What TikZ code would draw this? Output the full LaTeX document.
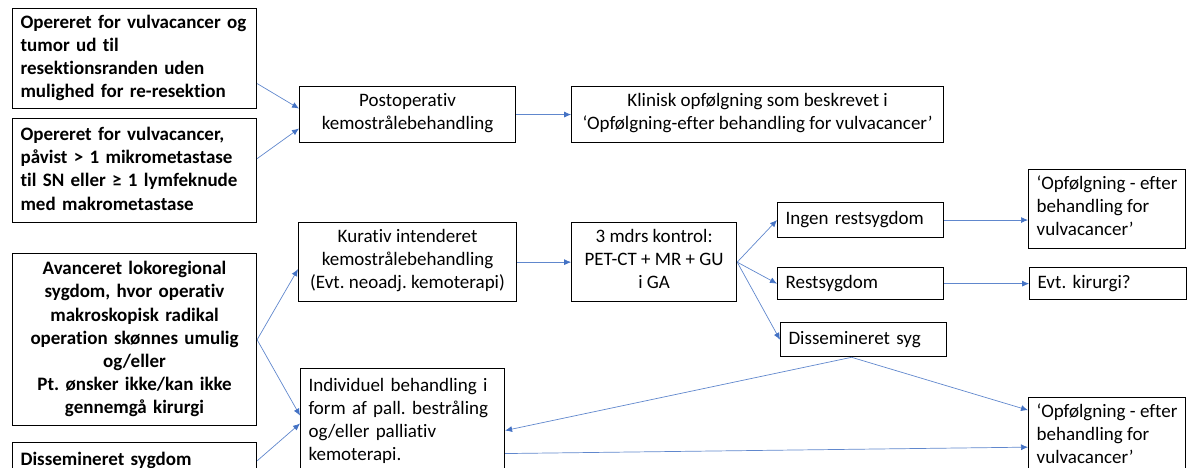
\documentclass[tikz,border=0pt]{standalone}
\usepackage{fontspec}
\setmainfont{Carlito}[Ligatures=NoCommon]
\usetikzlibrary{positioning,arrows.meta}

\definecolor{linkblue}{HTML}{4472C4}
\frenchspacing

\tikzset{
  box/.style={draw=black, line width=1.1pt, inner xsep=8pt, inner ysep=0pt,
    font=\fontsize{19}{23.2}\selectfont,
    execute at begin node=\strut, execute at end node=\strut},
  boldbox/.style={box, font=\fontsize{19}{23.2}\selectfont\bfseries},
  link/.style={draw=linkblue!85, line width=0.7pt,
    -{Latex[length=7pt,width=6pt,color=linkblue]}},
}

\begin{document}
\begin{tikzpicture}
  \useasboundingbox (0,0) rectangle (1187pt,-468pt);

  % indgange
  \node [boldbox, text width=228pt, minimum height=100pt, align=left, anchor=north west]
    (opA) at (12pt,-8pt) {Opereret for vulvacancer og\\tumor ud til\\resektionsranden uden\\mulighed for re-resektion};
  \node [boldbox, text width=228pt, minimum height=104pt, align=left, below=9pt of opA]
    (opB) {Opereret for vulvacancer,\\påvist > 1 mikrometastase\\til SN eller ≥ 1 lymfeknude\\med makrometastase};
  \node [boldbox, text width=228pt, minimum height=172pt, align=center, below=30pt of opB]
    (avanc) {Avanceret lokoregional\\sygdom, hvor operativ\\makroskopisk radikal\\operation skønnes umulig\\og/eller\\Pt. ønsker ikke/kan ikke\\gennemgå kirurgi};
  \node [boldbox, text width=228pt, minimum height=36pt, align=left, below=16pt of avanc]
    (dissem) {Dissemineret sygdom};

  % behandling
  \node [box, minimum width=216pt, minimum height=56pt, align=center, anchor=north west]
    (post) at (299pt,-86pt) {Postoperativ\\kemostrålebehandling};
  \node [box, minimum width=372pt, minimum height=56pt, align=center, right=55pt of post]
    (klinisk) {Klinisk opfølgning som beskrevet i\\‘Opfølgning-efter behandling for vulvacancer’};
  \node [box, minimum width=218pt, minimum height=79pt, align=center, below=79pt of post]
    (kurativ) {Kurativ intenderet\\kemostrålebehandling\\(Evt. neoadj. kemoterapi)};
  \node [box, minimum width=165pt, minimum height=79pt, align=center, right=54pt of kurativ]
    (kontrol) {3 mdrs kontrol:\\PET-CT + MR + GU\\i GA};
  \node [box, text width=188pt, minimum height=106pt, align=left, anchor=north west]
    (indiv) at (300pt,-368pt) {Individuel behandling i\\form af pall. bestråling\\og/eller palliativ\\kemoterapi.};

  % udfald
  \node [box, text width=150pt, minimum height=35pt, align=left, anchor=north west]
    (ingen) at (777pt,-202pt) {Ingen restsygdom};
  \node [box, text width=150pt, minimum height=32pt, align=left, below=29pt of ingen]
    (rest) {Restsygdom};
  \node [box, text width=150pt, minimum height=34pt, align=left, below=22pt of rest, xshift=3pt]
    (dissyg) {Dissemineret syg};

  % opfoelgning
  \node [box, minimum width=157pt, minimum height=79pt, align=left, anchor=north west]
    (opfA) at (1028pt,-169pt) {‘Opfølgning - efter\\behandling for\\vulvacancer’};
  \node [box, text width=141pt, minimum height=32pt, align=left, right=85pt of rest]
    (kirurgi) {Evt. kirurgi?};
  \node [box, minimum width=157pt, minimum height=79pt, align=left, below=148pt of opfA]
    (opfB) {‘Opfølgning - efter\\behandling for\\vulvacancer’};

  \draw [link] ([yshift=-25pt]opA.east) -- ([yshift=6pt]post.west);
  \draw [link] ([yshift=12pt]opB.east) -- ([yshift=-14pt]post.west);
  \draw [link] (post) -- (klinisk);
  \draw [link] (avanc.east) -- ([yshift=-7pt]kurativ.west);
  \draw [link] (avanc.east) -- ([yshift=6pt]indiv.west);
  \draw [link] (dissem.east) -- ([yshift=-2pt]indiv.west);
  \draw [link] (kurativ) -- (kontrol);
  \draw [link] (kontrol.east) -- (ingen.west);
  \draw [link] (kontrol.east) -- (rest.west);
  \draw [link] (kontrol.east) -- (dissyg.west);
  \draw [link] (ingen.east) -- (ingen.east -| opfA.west);
  \draw [link] (rest) -- (kirurgi);
  \draw [link] ([xshift=-12pt]dissyg.south) -- ([yshift=-9pt]indiv.east);
  \draw [link] ([xshift=-12pt]dissyg.south) -- ([yshift=27pt]opfB.west);
  \draw [link] ([yshift=-32pt]indiv.east) -- ([yshift=-10pt]opfB.west);
\end{tikzpicture}
\end{document}
